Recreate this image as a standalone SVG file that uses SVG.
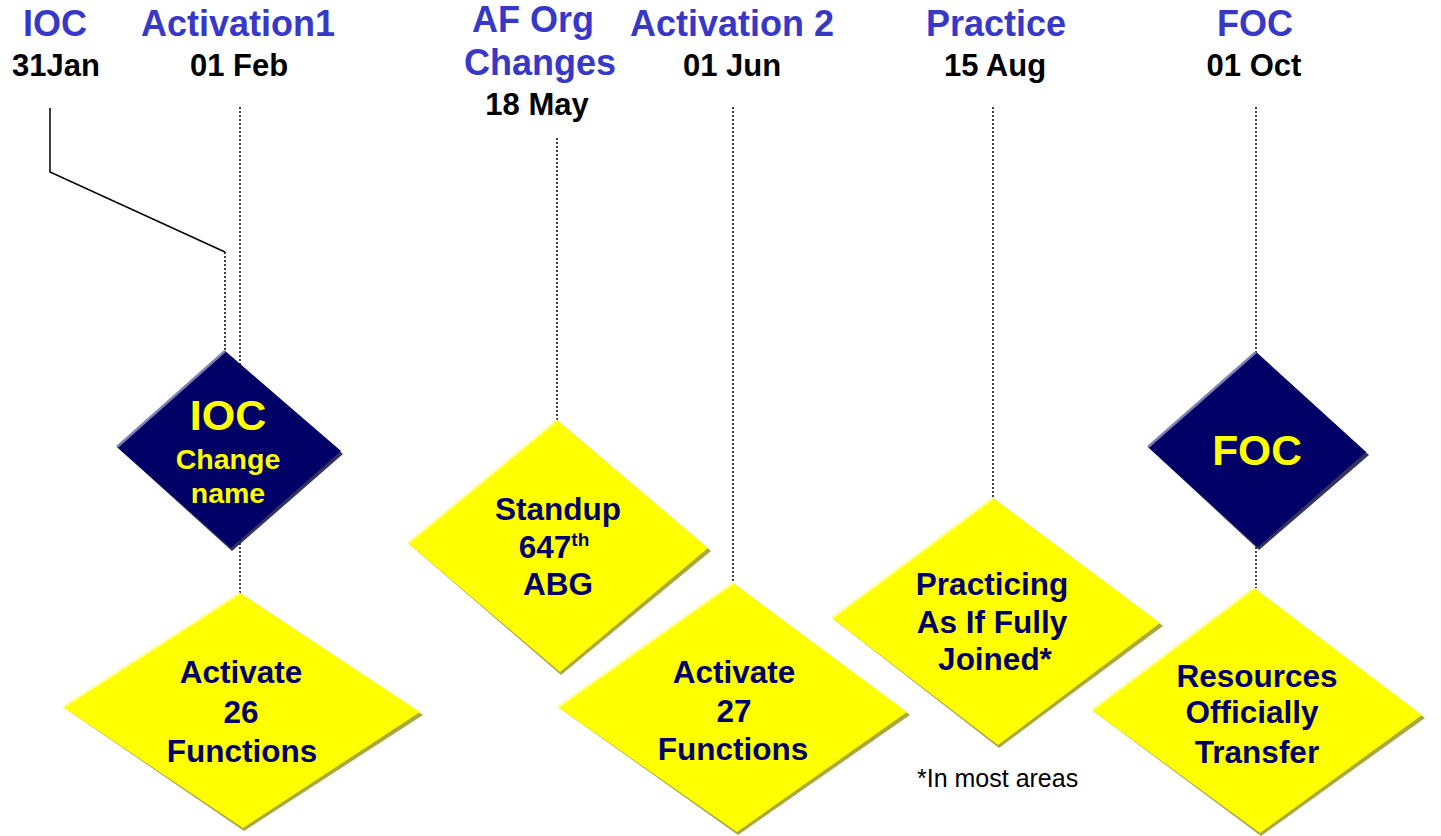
<svg xmlns="http://www.w3.org/2000/svg" width="1441" height="836" viewBox="0 0 1441 836">
<style>
text{font-family:"Liberation Sans",Arial,sans-serif;font-weight:bold;text-anchor:middle}
.hd{fill:#3838C8;font-size:36px}
.dt{fill:#000;font-size:31px}
.yt{fill:#000066;font-size:31.5px}
.nt{fill:#FFFF00}
.dot{stroke:#000;stroke-width:1.5;stroke-dasharray:2 2;fill:none}
.sol{stroke:#000;stroke-width:1.5;fill:none}
.yel{fill:#FFFF00}
.ysh{fill:#8C8C00;opacity:0.75}
.yhl{fill:none;stroke:#FFFF9A;stroke-width:2.5}
.nav{fill:#000066}
.nsh{fill:#000033;opacity:0.8}
.nhl{fill:none;stroke:#8080B8;stroke-width:2.5}
.note{fill:#000;font-size:25px;font-weight:normal;text-anchor:start}
</style>

<g id="connectors">
<polyline class="sol" points="50,108 50,172 225,252"/>
<line class="dot" x1="225" y1="252" x2="225" y2="351"/>
<line class="dot" x1="240" y1="107" x2="240" y2="593"/>
<line class="dot" x1="557" y1="138" x2="557" y2="420"/>
<line class="dot" x1="733" y1="107" x2="733" y2="583"/>
<line class="dot" x1="993" y1="107" x2="993" y2="498"/>
<line class="dot" x1="1256" y1="107" x2="1256" y2="588"/>
</g>

<g id="hdr-ioc">
<text class="hd" x="55" y="36">IOC</text>
<text class="dt" x="56" y="76">31Jan</text>
</g>
<g id="hdr-act1">
<text class="hd" x="238" y="36">Activation1</text>
<text class="dt" x="239" y="76">01 Feb</text>
</g>
<g id="hdr-aforg">
<text class="hd" x="533" y="32" font-size="35">AF Org</text>
<text class="hd" x="540" y="75">Changes</text>
<text class="dt" x="537" y="115">18 May</text>
</g>
<g id="hdr-act2">
<text class="hd" x="732" y="36">Activation 2</text>
<text class="dt" x="732" y="76">01 Jun</text>
</g>
<g id="hdr-practice">
<text class="hd" x="996" y="36">Practice</text>
<text class="dt" x="995" y="76">15 Aug</text>
</g>
<g id="hdr-foc">
<text class="hd" x="1255" y="36">FOC</text>
<text class="dt" x="1254" y="76">01 Oct</text>
</g>

<g id="node-ioc">
<polygon class="nsh" points="225,351 343,454 232,551 117,447"/>
<polygon class="nav" points="225,351 341,451 231,548 117,447"/>
<polyline class="nhl" points="117,447 225,351"/>
<text class="nt" x="228" y="430" font-size="43">IOC</text>
<text class="nt" x="228" y="469" font-size="28.5">Change</text>
<text class="nt" x="228" y="503" font-size="28.5">name</text>
</g>

<g id="node-act26">
<polygon class="ysh" points="240,593 423,715 244,831 63,707"/>
<polygon class="yel" points="240,593 420,712 243,828 63,707"/>
<polyline class="yhl" points="63,707 240,593"/>
<text class="yt" x="241" y="683">Activate</text>
<text class="yt" x="241" y="723">26</text>
<text class="yt" x="242" y="762">Functions</text>
</g>

<g id="node-standup">
<polygon class="ysh" points="557,420 711,551 561,675 408,543"/>
<polygon class="yel" points="557,420 708,548 560,672 408,543"/>
<polyline class="yhl" points="408,543 557,420"/>
<text class="yt" x="558" y="520">Standup</text>
<text class="yt" x="554" y="558">647<tspan font-size="19" dy="-12">th</tspan></text>
<text class="yt" x="558" y="595">ABG</text>
</g>

<g id="node-act27">
<polygon class="ysh" points="733,583 910,715 738,835 558,707"/>
<polygon class="yel" points="733,583 907,712 737,832 558,707"/>
<polyline class="yhl" points="558,707 733,583"/>
<text class="yt" x="734" y="683">Activate</text>
<text class="yt" x="734" y="722">27</text>
<text class="yt" x="733" y="760">Functions</text>
</g>

<g id="node-practicing">
<polygon class="ysh" points="993,498 1163,626 999,748 832,618"/>
<polygon class="yel" points="993,498 1160,623 998,745 832,618"/>
<polyline class="yhl" points="832,618 993,498"/>
<text class="yt" x="992" y="595">Practicing</text>
<text class="yt" x="992" y="633">As If Fully</text>
<text class="yt" x="995" y="670">Joined*</text>
</g>

<g id="node-foc">
<polygon class="nsh" points="1256,352 1369,455 1259,550 1148,447"/>
<polygon class="nav" points="1256,352 1366,452 1258,547 1148,447"/>
<polyline class="nhl" points="1148,447 1256,352"/>
<text class="nt" x="1257" y="465" font-size="42.5">FOC</text>
</g>

<g id="node-resources">
<polygon class="ysh" points="1254,588 1425,718 1261,836 1092,710"/>
<polygon class="yel" points="1254,588 1422,715 1260,833 1092,710"/>
<polyline class="yhl" points="1092,710 1254,588"/>
<text class="yt" x="1257" y="687">Resources</text>
<text class="yt" x="1252" y="723">Officially</text>
<text class="yt" x="1257" y="763">Transfer</text>
</g>

<g id="footnote">
<text class="note" x="917" y="787">*In most areas</text>
</g>
</svg>
